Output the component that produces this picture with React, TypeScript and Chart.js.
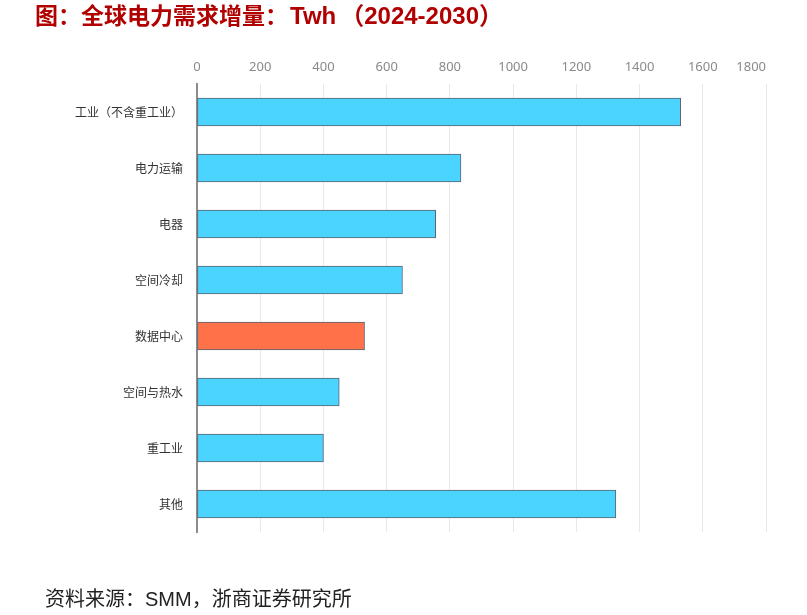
import React, { useEffect, useRef } from "react";
import { Chart, registerables } from "chart.js";

Chart.register(...registerables);

const categories = [
  "工业（不含重工业）",
  "电力运输",
  "电器",
  "空间冷却",
  "数据中心",
  "空间与热水",
  "重工业",
  "其他",
];
const values = [1530, 835, 755, 650, 530, 450, 400, 1325];
const highlightCategory = "数据中心";
const xTicks = [0, 200, 400, 600, 800, 1000, 1200, 1400, 1600, 1800];
const titleMain = "图：全球电力需求增量：";
const titleUnit = "Twh";
const titleYears = "（2024-2030）";
const sourceText = "资料来源：SMM，浙商证券研究所";

const CJK = '"Noto Sans CJK SC", "Noto Sans", sans-serif';
const MIXED = '"Liberation Sans", "Noto Sans CJK SC", sans-serif';
const TICK_FONT = '"Noto Sans", sans-serif';

const lastTickPlugin = {
  id: "lastTickRight",
  afterDraw(chart: any) {
    const scale = chart.scales.x;
    const last = xTicks[xTicks.length - 1];
    const ctx = chart.ctx;
    ctx.save();
    ctx.font = `13px ${TICK_FONT}`;
    ctx.fillStyle = "#8a8a8a";
    ctx.textAlign = "right";
    ctx.textBaseline = "bottom";
    ctx.fillText(String(last), scale.getPixelForValue(last), scale.bottom - 10.5);
    ctx.restore();
  },
};

export default function App() {
  const ref = useRef<HTMLCanvasElement | null>(null);

  useEffect(() => {
    if (!ref.current) return;
    const chart = new Chart(ref.current, {
      type: "bar",
      data: {
        labels: categories,
        datasets: [
          {
            data: values,
            backgroundColor: categories.map((c) =>
              c === highlightCategory ? "#FF7149" : "#4AD4FF"
            ),
            borderColor: "#5a6470",
            borderWidth: 1,
            borderSkipped: false,
            barThickness: 28,
          },
        ],
      },
      options: {
        indexAxis: "y",
        animation: false,
        responsive: false,
        maintainAspectRatio: false,
        layout: { padding: { top: 50, left: 0, right: 41, bottom: 83 } },
        plugins: {
          legend: { display: false },
          tooltip: { enabled: false },
        },
        scales: {
          x: {
            position: "top",
            min: 0,
            max: 1800,
            afterBuildTicks: (scale: any) => {
              scale.ticks = xTicks.map((v) => ({ value: v }));
            },
            afterFit: (scale: any) => {
              scale.height = 34;
            },
            grid: { color: "#e8e8e8", lineWidth: 1, drawTicks: false },
            border: { display: false },
            ticks: {
              color: "#8a8a8a",
              padding: 9,
              font: { family: TICK_FONT, size: 13 },
              maxRotation: 0,
              callback: (v: any) =>
                Number(v) === xTicks[xTicks.length - 1] ? "" : String(v),
            },
          },
          y: {
            afterFit: (scale: any) => {
              scale.width = 197;
            },
            grid: { display: false, drawTicks: false },
            border: { display: true, color: "#8c8c8c", width: 2 },
            ticks: {
              color: "#333333",
              padding: 14,
              font: { family: CJK, size: 12 },
            },
          },
        },
      },
      plugins: [lastTickPlugin],
    });
    return () => chart.destroy();
  }, []);

  return (
    <div
      style={{
        position: "absolute",
        left: 0,
        top: 0,
        width: 807,
        height: 615,
        background: "#ffffff",
        overflow: "hidden",
      }}
    >
      <canvas
        ref={ref}
        width={807}
        height={615}
        style={{ position: "absolute", left: 0, top: 0, width: 807, height: 615 }}
      />
      <div
        style={{
          position: "absolute",
          left: 35,
          top: 1,
          fontFamily: MIXED,
          fontWeight: 700,
          fontSize: 23,
          color: "#B00000",
          lineHeight: "30px",
          whiteSpace: "nowrap",
        }}
      >
        {titleMain}
        <span style={{ fontSize: 24, marginLeft: 2 }}>{titleUnit}</span>
        <span style={{ fontSize: 24, marginLeft: 4 }}>{titleYears}</span>
      </div>
      <div
        style={{
          position: "absolute",
          left: 45,
          top: 585,
          fontFamily: MIXED,
          fontSize: 20,
          color: "#222222",
          lineHeight: "28px",
          whiteSpace: "nowrap",
        }}
      >
        {sourceText}
      </div>
    </div>
  );
}
